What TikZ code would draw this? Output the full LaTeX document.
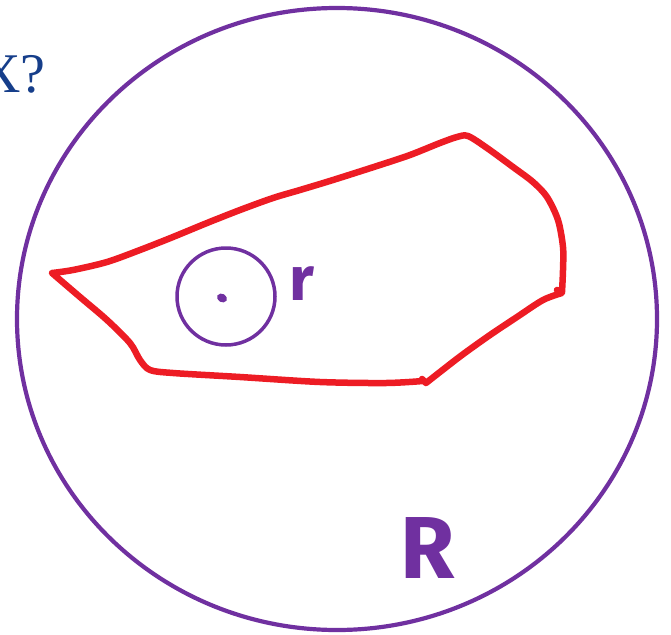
\documentclass[tikz,border=0pt]{standalone}
\usepackage{fontspec}
\setmainfont{Liberation Serif}
\newfontfamily\handfont{Fira Sans}
\definecolor{discpurple}{RGB}{112,48,160}
\definecolor{setred}{RGB}{237,28,36}
\definecolor{askblue}{RGB}{22,62,138}

\begin{document}
\begin{tikzpicture}[x=1pt,y=-1pt]
  \useasboundingbox (0,0) rectangle (671,634);

  % Question, cut at the left edge
  \node[text=askblue, anchor=base east, inner sep=0pt, font=\fontsize{56}{60}\selectfont] (ask) at (46,92) {X?};

  % Big disc of radius R
  \draw[discpurple, line width=4.2pt] (337,319) ellipse (320 and 311);

  % The set (red, hand drawn)
  \draw[setred, line width=6.5pt, line cap=round, line join=round]
    plot[smooth, tension=0.5] coordinates {(52,273) (73,270) (107,262) (140,250) (173,237)
      (207,223) (240,210) (273,198) (300,190) (333,180) (380,165) (410,155)
      (440,143) (457,137) (468,136) (487,148) (513,167) (533,182) (547,197)
      (558,220) (563,247) (563,270) (562,292)}
    -- (557,290) -- (562,293)
    -- plot[smooth, tension=0.5] coordinates {(562,293) (543,300) (517,317) (490,335) (462,355) (440,372) (426,383)}
    -- (422,379)
    -- plot[smooth, tension=0.5] coordinates {(423,381) (386,383) (320,382) (240,377) (173,373)
      (150,370) (140,360) (130,343) (107,320) (80,297) (52,273)};

  % Small disc of radius r
  \draw[discpurple, line width=3.5pt] (226,296.5) ellipse (49 and 48.5);
  \fill[discpurple, rotate around={-30:(222,298)}] (222,298) ellipse (5.2 and 4.2);

  % Labels
  \node[text=discpurple, font=\handfont\bfseries\fontsize{62}{62}\selectfont] (rlab) at (302,284) {r};
  \node[text=discpurple, font=\handfont\bfseries\fontsize{88}{88}\selectfont] (Rlab) at (428,548) {R};
\end{tikzpicture}
\end{document}
